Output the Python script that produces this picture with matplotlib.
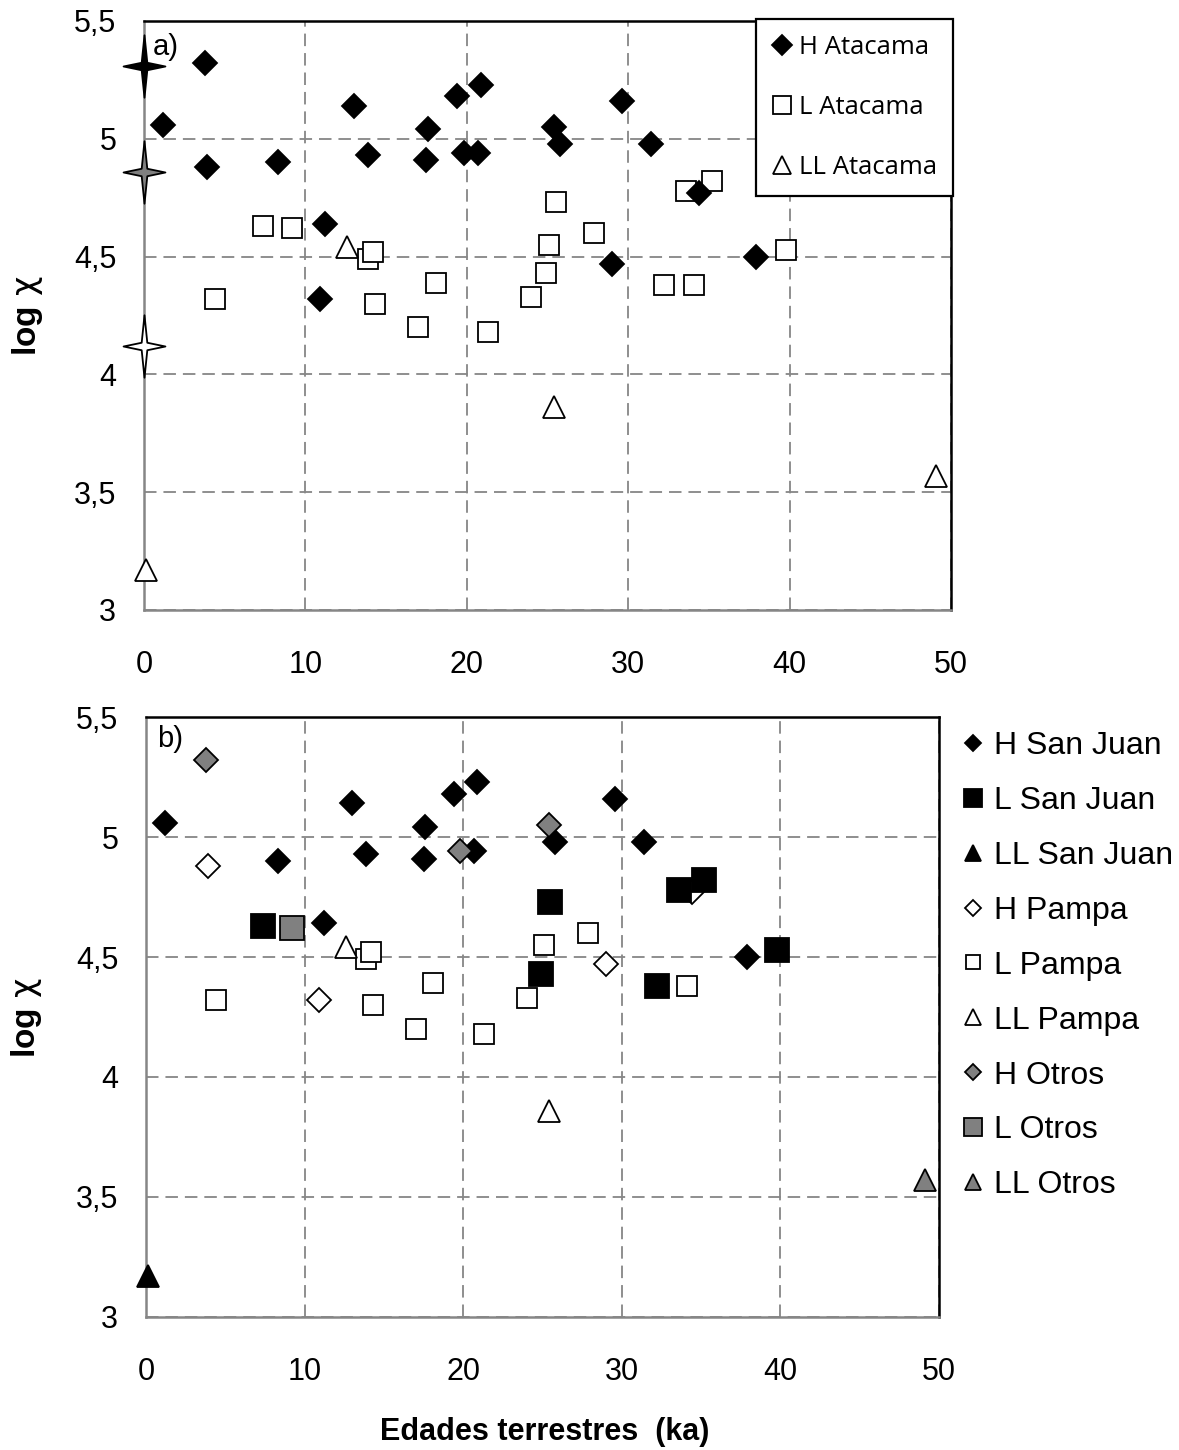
import matplotlib
matplotlib.use("Agg")
import matplotlib.pyplot as plt
from matplotlib.path import Path
from matplotlib.ticker import FuncFormatter

plt.rcParams['font.family'] = ['Liberation Sans', 'DejaVu Sans']
plt.rcParams['lines.scale_dashes'] = False
plt.rcParams['mathtext.fontset'] = 'custom'
plt.rcParams['mathtext.rm'] = 'DejaVu Sans'
plt.rcParams['mathtext.bf'] = 'Liberation Sans:bold'

# terrestrial age (ka) and log chi, by group and provenance
h_sanjuan_age = [1.2, 8.3, 11.2, 13.0, 13.9, 17.6, 17.5, 19.4, 20.7, 20.9, 25.8, 29.6, 31.4, 37.9]
h_sanjuan_chi = [5.06, 4.90, 4.64, 5.14, 4.93, 5.04, 4.91, 5.18, 4.94, 5.23, 4.98, 5.16, 4.98, 4.50]
h_pampa_age = [3.9, 10.9, 29.0, 34.4]
h_pampa_chi = [4.88, 4.32, 4.47, 4.77]
h_otros_age = [3.8, 19.8, 25.4]
h_otros_chi = [5.32, 4.94, 5.05]

l_sanjuan_age = [7.4, 24.9, 25.5, 32.2, 33.6, 35.2, 39.8]
l_sanjuan_chi = [4.63, 4.43, 4.73, 4.38, 4.78, 4.82, 4.53]
l_pampa_age = [4.4, 13.9, 14.2, 14.3, 17.0, 18.1, 21.3, 24.0, 25.1, 27.9, 34.1]
l_pampa_chi = [4.32, 4.49, 4.52, 4.30, 4.20, 4.39, 4.18, 4.33, 4.55, 4.60, 4.38]
l_otros_age = [9.2]
l_otros_chi = [4.62]

ll_sanjuan_age = [0.1]
ll_sanjuan_chi = [3.17]
ll_pampa_age = [12.6, 25.4]
ll_pampa_chi = [4.54, 3.86]
ll_otros_age = [49.1]
ll_otros_chi = [3.57]

# mean values of falls (H, L, LL), drawn on the y axis
falls_chi = [5.31, 4.86, 4.12]
falls_color = ['black', '#808080', 'white']

xticks = [0, 10, 20, 30, 40, 50]
yticks = [3, 3.5, 4, 4.5, 5, 5.5]

GRAY = '#808080'
GRID = '#868686'

# four-pointed star, taller than wide
star_verts = [(0, 1), (0.09, 0.12), (0.67, 0), (0.09, -0.12), (0, -1),
              (-0.09, -0.12), (-0.67, 0), (-0.09, 0.12), (0, 1)]
star = Path(star_verts, [Path.MOVETO] + [Path.LINETO] * 7 + [Path.CLOSEPOLY])

fig = plt.figure(figsize=(11.79, 14.5), dpi=100)
W, H = 1179, 1450
ax1 = fig.add_axes([144 / W, 1 - 610 / H, (951 - 144) / W, (610 - 21) / H])
ax2 = fig.add_axes([146 / W, 1 - 1317 / H, (939 - 146) / W, (1317 - 717) / H])

comma = FuncFormatter(lambda v, p: ('%g' % v).replace('.', ','))


def style(ax):
    ax.set_xlim(0, 50)
    ax.set_ylim(3, 5.5)
    ax.set_xticks(xticks)
    ax.set_yticks(yticks)
    ax.yaxis.set_major_formatter(comma)
    ax.grid(True, color=GRID, lw=1.3, ls=(0, (9, 5)))
    ax.set_axisbelow(True)
    for s in ['left', 'bottom']:
        ax.spines[s].set_color(GRID)
        ax.spines[s].set_linewidth(1.8)
    for s in ['top', 'right']:
        ax.spines[s].set_color('black')
        ax.spines[s].set_linewidth(1.8)
    ax.tick_params(length=0, labelsize=22)
    ax.tick_params(axis='x', pad=29)
    ax.tick_params(axis='y', pad=20)
    ax.set_ylabel(r'$\mathbf{log}\ \mathrm{\chi}$', fontsize=24, va='center')
    x0 = ax.get_position().x0 * W
    ax.yaxis.set_label_coords((27 - x0) / (ax.get_position().width * W), 0.5)


style(ax1)
style(ax2)

ms_d, ms_s, ms_t = 11.8, 14.5, 15.5
mew = 1.3

# panel a: grouped by chondrite type only
h_all_age = h_sanjuan_age + h_pampa_age + h_otros_age
h_all_chi = h_sanjuan_chi + h_pampa_chi + h_otros_chi
l_all_age = l_sanjuan_age + l_pampa_age + l_otros_age
l_all_chi = l_sanjuan_chi + l_pampa_chi + l_otros_chi
ll_all_age = ll_sanjuan_age + ll_pampa_age + ll_otros_age
ll_all_chi = ll_sanjuan_chi + ll_pampa_chi + ll_otros_chi

la = ax1.plot(l_all_age, l_all_chi, 's', ms=ms_s, mfc='white', mec='black', mew=mew,
              label='L Atacama', zorder=3)[0]
lla = ax1.plot(ll_all_age, ll_all_chi, '^', ms=ms_t, mfc='white', mec='black', mew=mew,
               label='LL Atacama', zorder=3, clip_on=False)[0]
ha = ax1.plot(h_all_age, h_all_chi, 'D', ms=ms_d, mfc='black', mec='black', mew=mew,
              label='H Atacama', zorder=4)[0]
for v, c in zip(falls_chi, falls_color):
    ax1.plot([0], [v], marker=star, ms=45, mfc=c, mec='black', mew=1.3,
             clip_on=False, zorder=6)

leg1 = ax1.legend(handles=[ha, la, lla], loc='upper right', bbox_to_anchor=(1.003, 1.004),
                  borderaxespad=0, fancybox=False, framealpha=1, edgecolor='black',
                  markerscale=0.85, handlelength=0.75, handletextpad=0.3,
                  labelspacing=1.38, borderpad=0.62,
                  prop={'family': 'Open Sans', 'size': 18.5})
leg1.get_frame().set_linewidth(1.6)
ax1.text(0.011, 0.956, 'a)', transform=ax1.transAxes, fontsize=21, va='center', ha='left')

# panel b: grouped by type and region
ms_sf = 17.5
h_pa = ax2.plot(h_pampa_age, h_pampa_chi, 'D', ms=ms_d, mfc='white', mec='black', mew=mew,
                label='H Pampa', zorder=3)[0]
h_sj = ax2.plot(h_sanjuan_age, h_sanjuan_chi, 'D', ms=ms_d, mfc='black', mec='black', mew=mew,
                label='H San Juan', zorder=4)[0]
l_sj = ax2.plot(l_sanjuan_age, l_sanjuan_chi, 's', ms=ms_sf, mfc='black', mec='black', mew=mew,
                label='L San Juan', zorder=4)[0]
ll_sj = ax2.plot(ll_sanjuan_age, ll_sanjuan_chi, '^', ms=ms_t, mfc='black', mec='black', mew=mew,
                 label='LL San Juan', zorder=4, clip_on=False)[0]
l_pa = ax2.plot(l_pampa_age, l_pampa_chi, 's', ms=ms_s, mfc='white', mec='black', mew=mew,
                label='L Pampa', zorder=5)[0]
ll_pa = ax2.plot(ll_pampa_age, ll_pampa_chi, '^', ms=ms_t, mfc='white', mec='black', mew=mew,
                 label='LL Pampa', zorder=5)[0]
h_ot = ax2.plot(h_otros_age, h_otros_chi, 'D', ms=ms_d, mfc=GRAY, mec='black', mew=mew,
                label='H Otros', zorder=6)[0]
l_ot = ax2.plot(l_otros_age, l_otros_chi, 's', ms=ms_sf, mfc=GRAY, mec='black', mew=mew,
                label='L Otros', zorder=6)[0]
ll_ot = ax2.plot(ll_otros_age, ll_otros_chi, '^', ms=ms_t, mfc=GRAY, mec='black', mew=mew,
                 label='LL Otros', zorder=6, clip_on=False)[0]

ax2.legend(handles=[h_sj, l_sj, ll_sj, h_pa, l_pa, ll_pa, h_ot, l_ot, ll_ot],
           loc='upper left', bbox_to_anchor=(962 / W, 1 - 731 / H),
           bbox_transform=fig.transFigure, frameon=False, borderaxespad=0, borderpad=0,
           markerscale=0.7, handlelength=0.7, handletextpad=0.3, labelspacing=0.78,
           fontsize=23)
ax2.text(0.014, 0.963, 'b)', transform=ax2.transAxes, fontsize=21, va='center', ha='left')

fig.text(545 / W, 1 - 1432 / H, 'Edades terrestres  (ka)', fontsize=22, fontweight='bold',
         ha='center', va='center')

fig.savefig('out.png', dpi=100)
